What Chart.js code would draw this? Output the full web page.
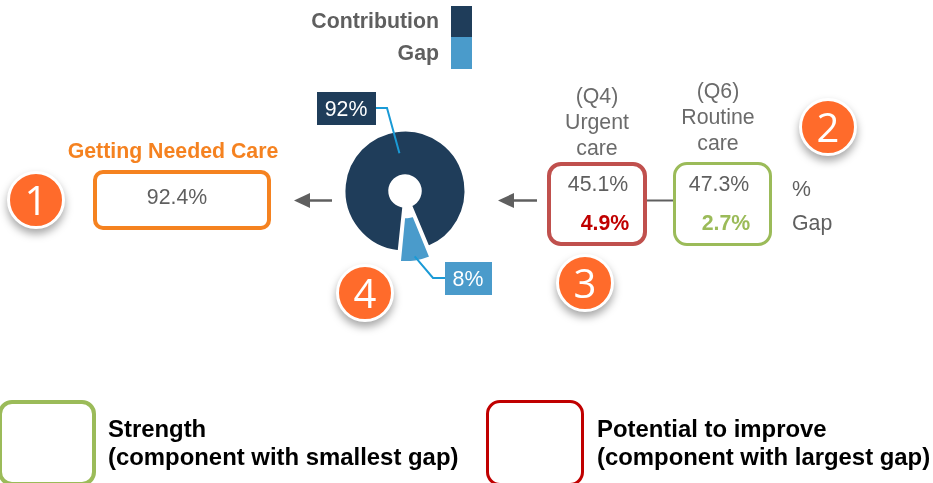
<!DOCTYPE html>
<html>
<head>
<meta charset="utf-8">
<script src="https://cdn.jsdelivr.net/npm/chart.js@4/dist/chart.umd.min.js"></script>
<style>
    html, body { margin: 0; padding: 0; background: #fff; overflow: hidden; }
    #stage { position: relative; width: 933px; height: 483px; overflow: hidden; font-family: "Liberation Sans", Arial, sans-serif; color: #5f5f5f; }
    #stage canvas { position: absolute; left: 0; top: 0; }
    #stage svg { position: absolute; left: 0; top: 0; }
    .txt { position: absolute; white-space: nowrap; font-size: 21.3px; line-height: 26px; transform: translateY(-50%); }
    .mid { transform: translate(-50%, -50%); }
    .end { transform: translate(-100%, -50%); }
    .box { position: absolute; box-sizing: border-box; background: #fff; border-style: solid; }
    .badge { position: absolute; box-sizing: border-box; width: 58px; height: 58px; margin: -29px 0 0 -29px; border: 3px solid #fff; border-radius: 50%; background: #ff6b2b; color: #fff; font: 40px/51px "Open Sans", sans-serif; text-align: center; box-shadow: 0 5px 8px rgba(0, 0, 0, 0.35); }
</style>
</head>
<body>
<div id="stage">
    <canvas id="chartCare" width="933" height="483"></canvas>
    <svg width="933" height="483">
        <g stroke="#5f5f5f" stroke-width="2.5" fill="#5f5f5f">
            <line x1="647" y1="200.5" x2="673" y2="200.5" stroke-width="2"/>
            <line x1="306" y1="200.5" x2="332" y2="200.5"/>
            <path d="M294 200.5 L310 193 L310 208 Z" stroke="none"/>
            <line x1="511" y1="200.5" x2="537" y2="200.5"/>
            <path d="M498 200.5 L514 193 L514 208 Z" stroke="none"/>
        </g>
    </svg>
</div>
<script>
// Chart values
const segmentNames = ["Contribution", "Gap"];
const segmentValues = [92, 8];
const segmentLabels = ["92%", "8%"];
const segmentColors = ["#1f3d5a", "#4a9bcb"];

const compositeName = "Getting Needed Care";
const compositeValue = "92.4%";

const componentNames = [["(Q4)", "Urgent", "care"], ["(Q6)", "Routine", "care"]];
const componentValues = ["45.1%", "47.3%"];
const componentGaps = ["4.9%", "2.7%"];
const rowNames = ["%", "Gap"];

const badgeNumbers = ["1", "2", "3", "4"];
const keyTitles = ["Strength", "Potential to improve"];
const keyNotes = ["(component with smallest gap)", "(component with largest gap)"];

const stage = document.getElementById("stage");

const addText = (text, x, y, align, css) => {
    const el = document.createElement("div");
    el.className = "txt " + align;
    el.textContent = text;
    el.style.left = x + "px";
    el.style.top = y + "px";
    Object.assign(el.style, css || {});
    stage.appendChild(el);
};

const addBox = (x, y, w, h, color, width, radius, fill) => {
    const el = document.createElement("div");
    el.className = "box";
    el.style.cssText = `left:${x}px;top:${y}px;width:${w}px;height:${h}px;border-color:${color};border-width:${width}px;border-radius:${radius}px;` + (fill ? `background:${fill};` : "");
    stage.appendChild(el);
};

const addBadge = (text, x, y) => {
    const el = document.createElement("div");
    el.className = "badge";
    el.textContent = text;
    el.style.left = x + "px";
    el.style.top = y + "px";
    stage.appendChild(el);
};

// Legend
addText(segmentNames[0], 439, 21, "end", { fontWeight: "bold" });
addText(segmentNames[1], 439, 53, "end", { fontWeight: "bold" });
addBox(451, 6, 21, 31, segmentColors[0], 0, 0, segmentColors[0]);
addBox(451, 37, 21, 32, segmentColors[1], 0, 0, segmentColors[1]);

// Composite
addText(compositeName, 173, 151, "mid", { fontWeight: "bold", color: "#f58220" });
addBox(93, 170, 178, 60, "#f58220", 4, 10);
addText(compositeValue, 177, 197, "mid");

// Components
addBox(547, 162, 100, 84, "#c0504d", 4, 14);
addBox(673, 162, 99, 84, "#9bbb59", 3, 14);
const colX = [597, 718];
const colY = [96, 91];
componentNames.forEach((lines, i) => {
    lines.forEach((line, j) => {
        addText(line, colX[i], colY[i] + j * 26, "mid", { color: "#6b6b6b" });
    });
});
addText(componentValues[0], 598, 184, "mid");
addText(componentValues[1], 719, 184, "mid");
addText(componentGaps[0], 605, 223, "mid", { fontWeight: "bold", color: "#c00000" });
addText(componentGaps[1], 726, 223, "mid", { fontWeight: "bold", color: "#9bbb59" });
addText(rowNames[0], 792, 189, "");
addText(rowNames[1], 792, 223, "");

// Doughnut labels
addBox(317, 92, 59, 33, segmentColors[0], 0, 0, segmentColors[0]);
addText(segmentLabels[0], 346, 109, "mid", { color: "#fff" });
addBox(445, 262, 47, 33, segmentColors[1], 0, 0, segmentColors[1]);
addText(segmentLabels[1], 468, 279, "mid", { color: "#fff" });

// Number badges
addBadge(badgeNumbers[0], 36, 200);
addBadge(badgeNumbers[1], 828, 127);
addBadge(badgeNumbers[2], 585, 283);
addBadge(badgeNumbers[3], 365, 293);

// Key
const keyFont = { fontWeight: "bold", color: "#000", fontSize: "23.9px" };
addBox(-2, 400, 98, 86, "#9bbb59", 4, 14);
addBox(486, 400, 98, 86, "#c00000", 3, 14);
addText(keyTitles[0], 108, 429, "", keyFont);
addText(keyNotes[0], 108, 457, "", keyFont);
addText(keyTitles[1], 597, 429, "", keyFont);
addText(keyNotes[1], 597, 457, "", keyFont);

// Leader lines start from the arcs, the elbows sit next to the label boxes
const leaderLines = {
    id: "leaderLines",
    afterDatasetsDraw: (chart) => {
        const arcs = chart.getDatasetMeta(0).data;
        const elbows = [[[387, 108], [376, 108]], [[433, 278], [445, 278]]];
        const ctx = chart.ctx;
        ctx.save();
        ctx.strokeStyle = "#1a9ad6";
        ctx.lineWidth = 2;
        arcs.forEach((arc, i) => {
            const p = arc.getCenterPoint();
            const mid = (arc.startAngle + arc.endAngle) / 2;
            const push = arc.options.offset / 2;
            ctx.beginPath();
            ctx.moveTo(p.x + Math.cos(mid) * push, p.y + Math.sin(mid) * push);
            elbows[i].forEach((e) => ctx.lineTo(e[0], e[1]));
            ctx.stroke();
        });
        ctx.restore();
    },
};

const config = {
    type: "doughnut",
    data: {
        labels: segmentNames,
        datasets: [
            {
                data: segmentValues,
                backgroundColor: segmentColors,
                borderColor: "#fff",
                borderWidth: 2,
                offset: [0, 28],
            },
        ],
    },
    options: {
        responsive: false,
        animation: false,
        rotation: 186,
        radius: 60.5,
        cutout: "26%",
        layout: { padding: { right: 123, bottom: 101 } },
        plugins: {
            legend: { display: false },
            tooltip: { enabled: false },
        },
    },
    plugins: [leaderLines],
};

new Chart(document.getElementById("chartCare"), config);
</script>
</body>
</html>
